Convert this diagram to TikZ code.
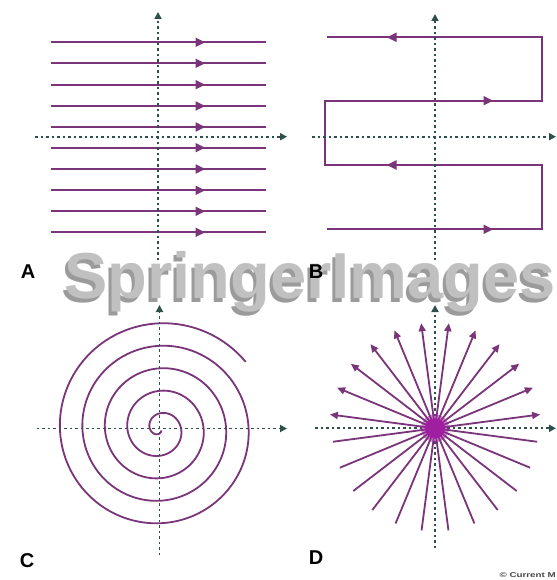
\documentclass[tikz,border=0pt]{standalone}
\usepackage{fontspec}
\setmainfont{Liberation Sans}
\usetikzlibrary{arrows.meta}
\definecolor{lc}{RGB}{122,52,122}
\definecolor{axc}{RGB}{45,80,75}
\definecolor{blobc}{RGB}{160,30,160}
\definecolor{wmc}{RGB}{192,192,192}
\definecolor{wms}{RGB}{155,155,155}
\begin{document}
\begin{tikzpicture}[x=1pt,y=-1pt,
  axis/.style={draw=axc, line width=1.8pt, dash pattern=on 2.5pt off 3pt, -{Triangle[length=7pt,width=7pt]}},
  flow/.style={draw=lc, line width=1.8pt},
  flowtip/.style={fill=lc},
  raytip/.style={-{Triangle[length=8pt,width=7pt]}},
  lbl/.style={font=\fontsize{20}{20}\selectfont\bfseries, text=black},
  wm/.style={font=\fontsize{65}{65}\selectfont\bfseries, anchor=base, inner sep=0pt}]
\fill[white] (0,0) rectangle (556,580);
\useasboundingbox (0,0) rectangle (556,580);

% watermark
\node[wm, text=wms] (wmshadow) at (307,302) {SpringerImages};
\node[wm, text=wmc] (wmtext) at (310,298) {SpringerImages};

% ---------- Panel A ----------
\foreach \y in {42.3,63.3,84.7,106,127,147.7,169,190.3,211.3,232.3} {
  \draw[flow] (50.7,\y) -- (266,\y);
  \fill[flowtip] (205,\y) -- ++(-9.5,-4.8) -- ++(0,9.6) -- cycle;
}
\draw[axis] (158,260) -- (158,12);
\draw[axis] (35,136.7) -- (287,136.7);
\node[lbl] (labA) at (28,272) {A};

% ---------- Panel B ----------
\draw[flow, line join=miter] (327,229.3) -- (542.3,229.3) -- (542.3,165) -- (325,165)
  -- (325,100.7) -- (542.3,100.7) -- (542.3,37.3) -- (327,37.3);
\fill[flowtip] (493,229.3) -- ++(-9.5,-4.8) -- ++(0,9.6) -- cycle;
\fill[flowtip] (493,100.7) -- ++(-9.5,-4.8) -- ++(0,9.6) -- cycle;
\fill[flowtip] (387,165) -- ++(9.5,-4.8) -- ++(0,9.6) -- cycle;
\fill[flowtip] (387,37.3) -- ++(9.5,-4.8) -- ++(0,9.6) -- cycle;
\draw[axis] (435,260) -- (435,14);
\draw[axis] (312,136.7) -- (556,136.7);
\node[lbl] (labB) at (316,272) {B};

% ---------- Panel C ----------
\draw[flow] plot[domain=38:1748, samples=700, smooth]
  ({159.9 + (105.6 - 0.0625*(\x-90))*cos(\x)}, {428.9 - (105.6 - 0.0625*(\x-90))*sin(\x)});
\draw[axis] (159.5,555) -- (159.5,305);
\draw[axis] (36.7,428.5) -- (287,428.5);
\node[lbl] (labC) at (27,561) {C};

% ---------- Panel D ----------
\draw[axis] (435,548) -- (435,305);
\draw[axis] (315,428.3) -- (556,428.3);
\foreach \k in {0,...,11} {
  \draw[flow, raytip] (435,428.3) -- ++({187.5+15*\k}:106);
  \draw[flow] (435,428.3) -- ++({7.5+15*\k}:103);
}
\fill[blobc, opacity=0.5] (435,428.3) circle (14);
\fill[blobc] (435,428.3) circle (10);
\node[lbl] (labD) at (316,558) {D};

% copyright
\node[anchor=east, inner sep=0pt, text={rgb,255:red,70;green,70;blue,70},
  font=\fontsize{7}{7}\selectfont\bfseries] (copy) at (556,575) {\scalebox{1.4}[1]{© Current M}};
\end{tikzpicture}
\end{document}
